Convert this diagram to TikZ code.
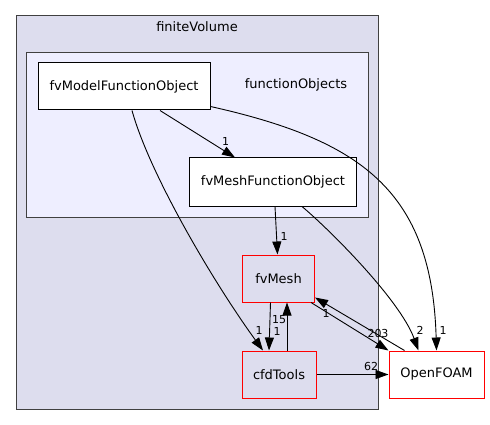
\documentclass[tikz,border=0pt]{standalone}
\usepackage{fontspec}
\setmainfont{DejaVu Sans}
\usetikzlibrary{arrows.meta}
\definecolor{clouter}{HTML}{DDDDEE}
\definecolor{clinner}{HTML}{EEEEFF}
\definecolor{clborder}{HTML}{404040}
\tikzset{
  box/.style={draw=black, fill=white, line width=1pt, inner sep=0pt, font=\fontsize{13}{15}\selectfont},
  redbox/.style={draw=red, line width=1pt, inner sep=0pt, font=\fontsize{13}{15}\selectfont},
  cluster/.style={draw=clborder, line width=1pt},
  ctitle/.style={inner sep=0pt, font=\fontsize{13}{15}\selectfont},
  elabel/.style={inner sep=0pt, font=\fontsize{11}{13}\selectfont},
  edge/.style={draw=black, line width=0.9pt, -{Triangle[length=13pt,width=9pt]}}
}
\begin{document}
\begin{tikzpicture}[x=1pt,y=-1pt]
\useasboundingbox (0,0) rectangle (490,425);
% clusters
\draw[cluster, fill=clouter] (16,16) rectangle (378.5,409);
\node[ctitle] (tfv) at (197,27) {finiteVolume};
\draw[cluster, fill=clinner] (26.5,52.5) rectangle (368,217);
\node[ctitle] (tfo) at (296,85) {functionObjects};
% nodes
\node[box, minimum width=172pt, minimum height=47pt] (mfo) at (124,86.5) {fvModelFunctionObject};
\node[box, minimum width=167pt, minimum height=48pt] (fo) at (273,182) {fvMeshFunctionObject};
\node[redbox, fill=clouter, minimum width=72pt, minimum height=47pt] (fvm) at (278.5,278.5) {fvMesh};
\node[redbox, fill=clouter, minimum width=74pt, minimum height=47pt] (cfd) at (279,374.5) {cfdTools};
\node[redbox, fill=white, minimum width=95pt, minimum height=47pt] (of) at (436.5,374.5) {OpenFOAM};
% edges
\draw[edge] ([xshift=36pt]mfo.south) -- ([xshift=-38pt]fo.north);
\draw[edge] ([xshift=8pt]mfo.south) .. controls +(18,65) and +(-48,-66) .. ([xshift=-16pt]cfd.north);
\draw[edge] ([yshift=-20pt]mfo.east) .. controls (360,140) and (432,190) .. (of.north);
\draw[edge] ([xshift=2pt]fo.south) -- ([xshift=-1pt]fvm.north);
\draw[edge] ([xshift=29pt]fo.south) .. controls (330,230) and (400,300) .. ([xshift=-18pt]of.north);
\draw[edge] ([xshift=-8pt]fvm.south) -- ([xshift=-10pt]cfd.north);
\draw[edge] ([xshift=8pt]cfd.north) -- ([xshift=8.5pt]fvm.south);
\draw[edge] ([xshift=-4pt]fvm.south east) -- (of.north west);
\draw[edge] ([xshift=16pt]of.north west) -- ([yshift=5pt]fvm.south east);
\draw[edge] (cfd.east) -- (of.west);
% edge labels
\node[elabel] (l1) at (225.5,141) {1};
\node[elabel] (l2) at (259,330) {1};
\node[elabel] (l3) at (284,236) {1};
\node[elabel] (l4) at (279,320) {15};
\node[elabel] (l5) at (277,331) {1};
\node[elabel] (l6) at (326,313) {1};
\node[elabel] (l7) at (378,333) {203};
\node[elabel] (l8) at (420,330) {2};
\node[elabel] (l9) at (443,330) {1};
\node[elabel] (l10) at (371,366) {62};
\end{tikzpicture}
\end{document}
